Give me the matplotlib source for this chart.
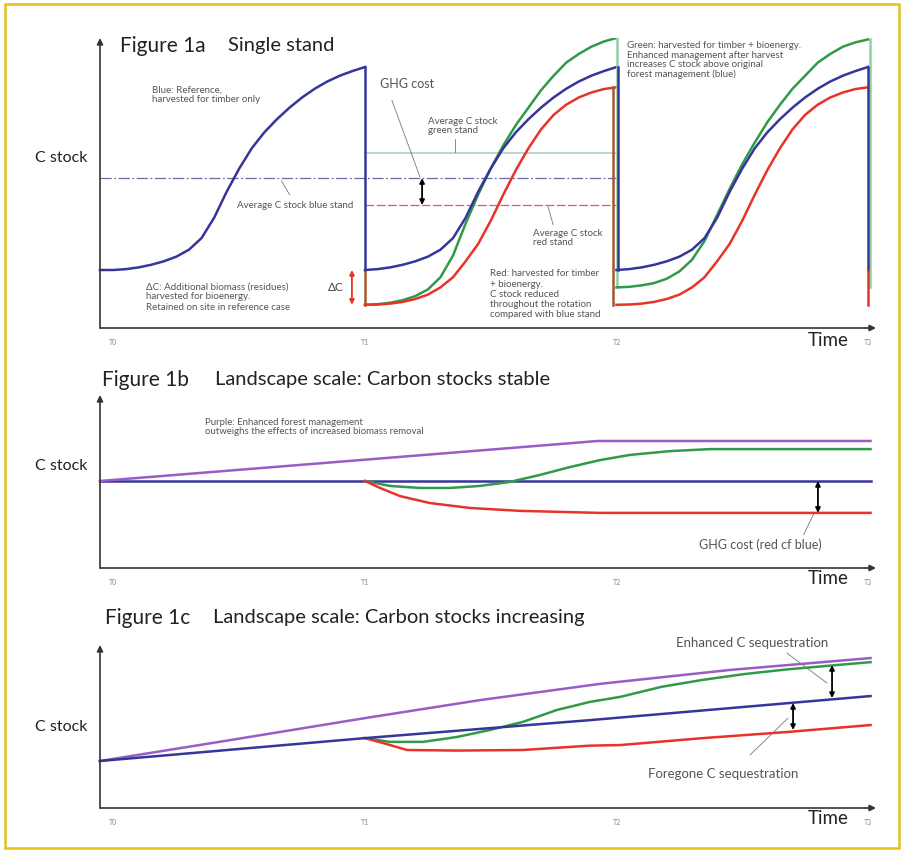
import matplotlib
matplotlib.use('Agg')
import matplotlib.pyplot as plt
from matplotlib.patches import Rectangle

plt.rcParams['font.family'] = ['Lato', 'DejaVu Sans']

# ------------------------------------------------------------------ data
tick_pos = [0, 1, 2, 3]
tick_labels = ['T0', 'T1', 'T2', 'T3']

# Figure 1a – single stand; growth within one rotation (relative time 0..1)
rot_t = [0, .05, .1, .15, .2, .25, .3, .35, .4, .45, .5,
         .55, .6, .65, .7, .75, .8, .85, .9, .95, 1]
blue_rot = [20, 20.3, 20.9, 21.8, 23, 24.6, 27, 31, 38, 47, 55,
            62, 67.5, 72, 76, 79.5, 82.5, 85, 87, 88.6, 90]
green_rot2 = [8, 8.2, 8.7, 9.6, 11, 13.3, 17.5, 25, 36, 46, 55,
              63, 70, 76, 82, 87, 91.5, 94.5, 97, 98.8, 100]
green_rot3 = [14, 14.2, 14.7, 15.5, 17, 19.5, 23.5, 30, 39, 48, 56.5,
              64, 71, 77, 82.5, 87, 91.5, 94.5, 97, 98.5, 99.5]
red_rot = [8, 8.1, 8.4, 9, 10, 11.5, 14, 17.5, 23, 29, 37,
           46, 54.5, 62, 68.5, 73.5, 77, 79.5, 81.2, 82.4, 83]
avg_blue, avg_green, avg_red = 51.7, 60.3, 42.4

# Figure 1b – landscape, stable stocks
b_purple_t = [-0.054, 1.926, 3.01]
b_purple = [30, 43.8, 43.8]
b_blue_t = [-0.054, 3.01]
b_blue = [30, 30]
b_green_t = [1, 1.099, 1.219, 1.338, 1.457, 1.577, 1.696, 1.815, 1.934,
             2.054, 2.213, 2.372, 3.01]
b_green = [30, 28.3, 27.6, 27.6, 28.3, 29.7, 32.1, 34.8, 37.2,
           39.0, 40.3, 41.0, 41.0]
b_red_t = [1, 1.06, 1.139, 1.258, 1.417, 1.616, 1.934, 3.01]
b_red = [30, 27.6, 24.8, 22.4, 20.7, 19.7, 19.0, 19.0]

# Figure 1c – landscape, increasing stocks
c_purple_t = [-0.054, 0.463, 1, 1.457, 1.934, 2.451, 3.01]
c_purple = [16.2, 23.4, 31.0, 37.2, 42.8, 47.6, 51.7]
c_blue_t = [-0.054, 1, 1.895, 3.01]
c_blue = [16.2, 24.1, 30.3, 38.6]
c_green_t = [1, 1.099, 1.231, 1.366, 1.497, 1.628, 1.763, 1.895, 2.014,
             2.18, 2.344, 2.51, 2.678, 2.85, 3.01]
c_green = [24.1, 22.8, 22.8, 24.5, 26.9, 29.7, 33.8, 36.6, 38.3,
           41.8, 44.2, 46.2, 47.8, 49.1, 50.3]
c_red_t = [1, 1.072, 1.167, 1.366, 1.628, 1.895, 2.014, 2.344, 2.678, 3.01]
c_red = [24.1, 22.4, 20.0, 19.8, 20.0, 21.5, 21.7, 24.1, 26.2, 28.6]

# ------------------------------------------------------------------ style
BLUE = '#35359a'
GREEN = '#2f9a48'
RED = '#e8332b'
PURPLE = '#9a5cc6'
BROWN = '#a5562c'
LGREEN = '#8fd0a5'
TXT = '#555555'
DARK = '#222222'
LW = 1.8
SMALL = 7

W, H = 904, 852
fig = plt.figure(figsize=(W / 100, H / 100), dpi=100)
fig.patch.set_facecolor('white')

SCALE = 2.9                       # px per C-stock unit
X0_PX, T1_PX, T3_PX, XR_PX = 100, 365, 868, 876
UNIT = (T3_PX - T1_PX) / 2


def xdata(p):
    return 1 + (p - T1_PX) / UNIT


XL, XR = xdata(X0_PX), xdata(XR_PX)


def ftext(x, y, s, **kw):
    fig.text(x / W, 1 - y / H, s, **kw)


def make_ax(top, bottom):
    ax = fig.add_axes([X0_PX / W, 1 - bottom / H, (XR_PX - X0_PX) / W, (bottom - top) / H])
    ax.set_xlim(XL, XR)
    ax.set_ylim(0, (bottom - top) / SCALE)
    for s in ax.spines.values():
        s.set_visible(False)
    ax.set_yticks([])
    ax.set_xticks(tick_pos)
    ax.set_xticklabels(tick_labels, fontsize=5, color='#888888')
    ax.tick_params(axis='x', length=0, pad=8)
    ax.patch.set_alpha(0)
    ap = dict(arrowstyle='-|>', color='#333333', lw=1.2, mutation_scale=9,
              shrinkA=0, shrinkB=0)
    ax.annotate('', xy=(0, 1.0), xytext=(0, 0), xycoords='axes fraction', arrowprops=ap)
    ax.annotate('', xy=(1, 0), xytext=(0, 0), xycoords='axes fraction', arrowprops=ap)
    return ax


def dbl(ax, x, y1, y2, color='black'):
    ax.annotate('', xy=(x, y1), xytext=(x, y2),
                arrowprops=dict(arrowstyle='<|-|>', color=color, lw=1.3,
                                mutation_scale=7, shrinkA=0, shrinkB=0))


def leader(ax, x1, y1, x2, y2):
    ax.plot([x1, x2], [y1, y2], color='#777777', lw=0.6, clip_on=False)


def shift(ts, off):
    return [t + off for t in ts]


def titles(y, fig_label, subtitle, x1, x2):
    ftext(x1, y, fig_label, fontsize=15, color=DARK, va='center')
    ftext(x2, y, subtitle, fontsize=14.5, color=DARK, va='center')


# ------------------------------------------------------------------ Figure 1a
ax = make_ax(38, 328)
ax.plot([XL, 2], [avg_blue, avg_blue], color='#6a6aaa', lw=0.9,
        ls=(0, (9, 2, 1.5, 2)), clip_on=False)
ax.plot([1, 2], [avg_green, avg_green], color='#a8cdb5', lw=1.1, clip_on=False)
ax.plot([1, 2], [avg_red, avg_red], color='#d9605a', lw=0.9,
        ls=(0, (7, 2)), clip_on=False)

# rotation 1 (blue only)
ax.plot([XL] + shift(rot_t, 0), [blue_rot[0]] + blue_rot, color=BLUE, lw=LW,
        clip_on=False, solid_joinstyle='round')
ax.plot([1, 1], [blue_rot[-1], blue_rot[0]], color=BLUE, lw=LW)
ax.plot([1, 1], [blue_rot[0], red_rot[0]], color=BROWN, lw=LW)
# rotation 2
ax.plot(shift(rot_t, 1), green_rot2, color=GREEN, lw=LW, solid_joinstyle='round')
ax.plot(shift(rot_t, 1), red_rot, color=RED, lw=LW, solid_joinstyle='round')
ax.plot(shift(rot_t, 1), blue_rot, color=BLUE, lw=LW, solid_joinstyle='round')
ax.plot([2, 2], [green_rot2[-1], green_rot3[0]], color=LGREEN, lw=LW)
ax.plot([2 - 0.012, 2 - 0.012], [red_rot[-1], red_rot[0]], color=BROWN, lw=LW)
ax.plot([2 + 0.006, 2 + 0.006], [blue_rot[-1], blue_rot[0]], color=BLUE, lw=LW)
# rotation 3
ax.plot(shift(rot_t, 2), green_rot3, color=GREEN, lw=LW, solid_joinstyle='round')
ax.plot(shift(rot_t, 2), red_rot, color=RED, lw=LW, solid_joinstyle='round')
ax.plot(shift(rot_t, 2), blue_rot, color=BLUE, lw=LW, solid_joinstyle='round')
ax.plot([3 + 0.008, 3 + 0.008], [green_rot3[-1], green_rot3[0]], color=LGREEN, lw=LW,
        clip_on=False)
ax.plot([3, 3], [blue_rot[-1], blue_rot[0]], color=BLUE, lw=LW, clip_on=False)
ax.plot([3, 3], [blue_rot[0], red_rot[0]], color=RED, lw=LW, clip_on=False)

# arrows
dbl(ax, 1.227, avg_blue, avg_red)
dbl(ax, 0.948, blue_rot[0], red_rot[0], color=RED)
ax.text(0.913, 14, 'ΔC', fontsize=8.5, color='#444444', ha='right', va='center')

# annotations
ax.text(1.06, 84.0, 'GHG cost', fontsize=9, color=TXT, va='center')
leader(ax, 1.107, 78.5, 1.219, 52.0)
ax.text(1.25, 69.7, 'Average C stock\ngreen stand', fontsize=SMALL, color=TXT,
        va='center', linespacing=1.1)
leader(ax, 1.356, 65.2, 1.356, 60.8)
ax.text(0.49, 42.4, 'Average C stock blue stand', fontsize=SMALL, color=TXT, va='center')
leader(ax, 0.668, 50.7, 0.70, 46.0)
ax.text(1.668, 31.0, 'Average C stock\nred stand', fontsize=SMALL, color=TXT,
        va='center', linespacing=1.1)
leader(ax, 1.728, 41.8, 1.748, 35.6)
ax.text(0.153, 80.3, 'Blue: Reference,\nharvested for timber only', fontsize=SMALL,
        color=TXT, va='center', linespacing=1.05)
ax.text(0.13, 10.7, 'ΔC: Additional biomass (residues)\nharvested for bioenergy.\n'
        'Retained on site in reference case', fontsize=SMALL, color=TXT, va='center',
        linespacing=1.15)
ax.text(2.043, 92.4, 'Green: harvested for timber + bioenergy.\nEnhanced management after harvest\n'
        'increases C stock above original\nforest management (blue)', fontsize=SMALL,
        color=TXT, va='center', linespacing=1.05)
ax.text(1.497, 11.7, 'Red: harvested for timber\n+ bioenergy.\nC stock reduced\n'
        'throughout the rotation\ncompared with blue stand', fontsize=SMALL,
        color=TXT, va='center', linespacing=1.15)

titles(46, 'Figure 1a', 'Single stand', 120, 228)
ftext(35, 158, 'C stock', fontsize=11.5, color=DARK, va='center')
ftext(808, 341, 'Time', fontsize=13.5, color=DARK, va='center')

# ------------------------------------------------------------------ Figure 1b
ax = make_ax(395, 568)
ax.plot(b_blue_t, b_blue, color=BLUE, lw=LW, clip_on=False)
ax.plot(b_purple_t, b_purple, color=PURPLE, lw=LW, clip_on=False)
ax.plot(b_green_t, b_green, color=GREEN, lw=LW, clip_on=False, solid_joinstyle='round')
ax.plot(b_red_t, b_red, color=RED, lw=LW, clip_on=False, solid_joinstyle='round')
dbl(ax, 2.801, b_blue[-1], b_red[-1])
ax.text(2.571, 7.9, 'GHG cost (red cf blue)', fontsize=9, color=TXT,
        ha='center', va='center')
leader(ax, 2.744, 11.5, 2.784, 18.6)
ax.text(0.364, 48.6, 'Purple: Enhanced forest management\n'
        'outweighs the effects of increased biomass removal', fontsize=6.9,
        color=TXT, va='center', linespacing=1.0)

titles(380, 'Figure 1b', 'Landscape scale: Carbon stocks stable', 102, 215)
ftext(35, 466, 'C stock', fontsize=11.5, color=DARK, va='center')
ftext(808, 579, 'Time', fontsize=13.5, color=DARK, va='center')

# ------------------------------------------------------------------ Figure 1c
ax = make_ax(645, 808)
ax.plot(c_purple_t, c_purple, color=PURPLE, lw=LW, clip_on=False, solid_joinstyle='round')
ax.plot(c_green_t, c_green, color=GREEN, lw=LW, clip_on=False, solid_joinstyle='round')
ax.plot(c_red_t, c_red, color=RED, lw=LW, clip_on=False, solid_joinstyle='round')
ax.plot(c_blue_t, c_blue, color=BLUE, lw=LW, clip_on=False, solid_joinstyle='round')
dbl(ax, 2.857, 49.3, 37.9)
dbl(ax, 2.702, 36.2, 26.9)
ax.text(2.539, 56.9, 'Enhanced C sequestration', fontsize=9.5, color=TXT,
        ha='center', va='center', clip_on=False)
leader(ax, 2.678, 53.4, 2.837, 43.1)
ax.text(2.423, 11.7, 'Foregone C sequestration', fontsize=9.5, color=TXT,
        ha='center', va='center')
leader(ax, 2.531, 18.3, 2.682, 31.0)

titles(618, 'Figure 1c', 'Landscape scale: Carbon stocks increasing', 105, 213)
ftext(35, 727, 'C stock', fontsize=11.5, color=DARK, va='center')
ftext(808, 819, 'Time', fontsize=13.5, color=DARK, va='center')

# ------------------------------------------------------------------ border
fig.patches.append(Rectangle((5 / W, 4 / H), 894 / W, 844 / H, transform=fig.transFigure,
                             fill=False, edgecolor='#e3c21c', lw=1.8))

fig.savefig('out.png', dpi=100, facecolor='white')
